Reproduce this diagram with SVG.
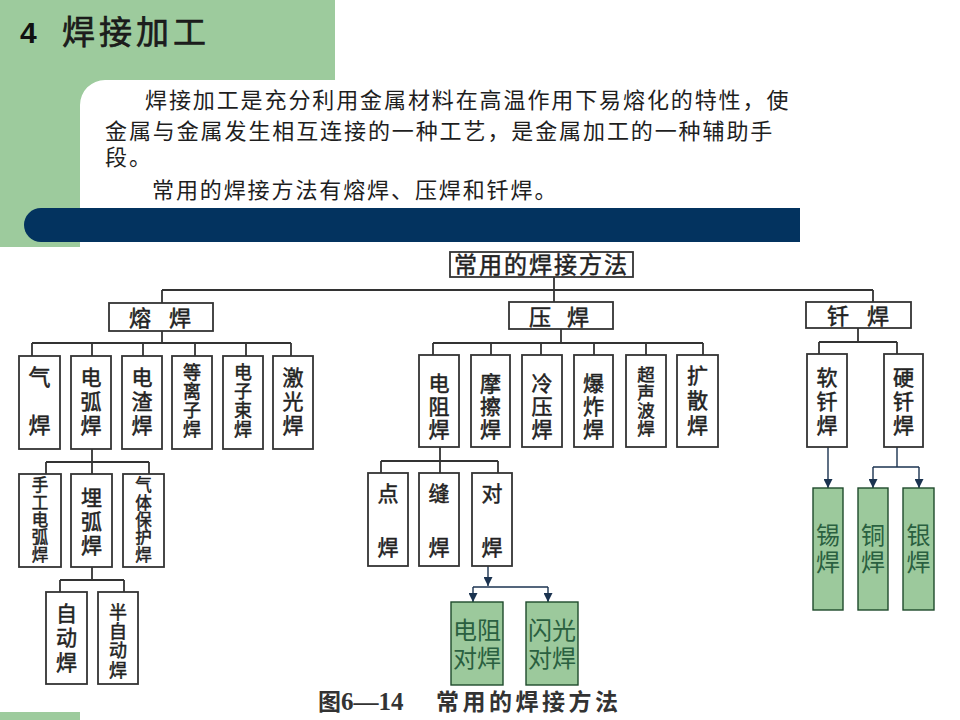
<svg xmlns="http://www.w3.org/2000/svg" width="960" height="720" viewBox="0 0 960 720">
<defs>
<style>
.bg{fill:#9dcb9d}
.bar{fill:#03335f}
.t{font-family:"Noto Sans CJK SC","Noto Sans CJK JP",sans-serif;fill:#1e1e1e}
.para{font-family:"Liberation Sans","Noto Sans CJK SC","Noto Sans CJK JP",sans-serif;font-size:22px;letter-spacing:1.9px;fill:#1e1e1e}
.box{fill:#fff;stroke:#333;stroke-width:1.8}
.gbox{fill:#9cc99c;stroke:#1f4a2c;stroke-width:1.4}
.nt{font-family:"Noto Sans CJK SC","Noto Sans CJK JP",sans-serif;fill:#222;stroke:#222;stroke-width:0.5}
.v{writing-mode:vertical-rl;text-anchor:start}
.gt{font-family:"Liberation Sans","Noto Sans CJK SC","Noto Sans CJK JP",sans-serif;fill:#2a6040;text-anchor:middle}
.gv{font-family:"Noto Sans CJK SC","Noto Sans CJK JP",sans-serif;fill:#2a6040;writing-mode:vertical-rl;text-anchor:start}
.ln{fill:none;stroke:#333;stroke-width:1.8}
.ar{fill:none;stroke:#1b3350;stroke-width:1.4}
</style>
<marker id="ah" viewBox="0 0 10 10" refX="10" refY="5" markerWidth="9" markerHeight="9" markerUnits="userSpaceOnUse" orient="auto">
<path d="M0 0 L10 5 L0 10 Z" fill="#1b3350"/>
</marker>
</defs>
<rect width="960" height="720" fill="#fff"/>
<g id="background">
<path class="bg" d="M0 0 H335 V80 H105 A25 25 0 0 0 80 105 V247 H0 Z"/>
<rect class="bg" x="0" y="712" width="80" height="8"/>
<path class="bar" d="M41 208 H800 V242 H41 A17 17 0 0 1 41 208 Z"/>
</g>
<g id="title">
<text x="20" y="43" font-family="Liberation Sans,Arial,sans-serif" font-weight="bold" font-size="30" fill="#111">4</text>
<text class="t" x="62" y="44" font-size="33" letter-spacing="4" fill="#111" stroke="#111" stroke-width="0.6">焊接加工</text>
</g>
<g id="paragraph">
<text class="para" x="145" y="108">焊接加工是充分利用金属材料在高温作用下易熔化的特性，使</text>
<text class="para" x="105" y="139">金属与金属发生相互连接的一种工艺，是金属加工的一种辅助手</text>
<text class="para" x="105" y="165">段。</text>
<text class="para" x="152" y="198">常用的焊接方法有熔焊、压焊和钎焊。</text>
</g>
<g id="connectors">
<path class="ln" d="M554 277 V290 M162 290 H873 M162 290 V303 M554 290 V302 M873 290 V302"/>
<path class="ln" d="M162 331 V343 M32 343 H291 M32 343 V356 M92 343 V356 M143 343 V356 M195 343 V356 M246 343 V356 M291 343 V356"/>
<path class="ln" d="M92 449 V462 M46 462 H149 M46 462 V474 M92 462 V474 M149 462 V474"/>
<path class="ln" d="M92 567 V580 M60 580 H124 M60 580 V592 M124 580 V592"/>
<path class="ln" d="M561 329 V343 M433 343 H703 M433 343 V355 M491 343 V355 M541 343 V355 M594 343 V355 M646 343 V355 M703 343 V355"/>
<path class="ln" d="M440 447 V461 M381 461 H498 M381 461 V473 M440 461 V473 M498 461 V473"/>
<path class="ln" d="M858 328 V342 M819 342 H897 M819 342 V354 M897 342 V354"/>
<path class="ar" d="M488 566 V586" marker-end="url(#ah)"/>
<path class="ar" d="M473 587 H548"/>
<path class="ar" d="M473 587 V602" marker-end="url(#ah)"/>
<path class="ar" d="M548 587 V602" marker-end="url(#ah)"/>
<path class="ar" d="M828 447 V488" marker-end="url(#ah)"/>
<path class="ar" d="M897 447 V467 M873 467 H919"/>
<path class="ar" d="M873 467 V488" marker-end="url(#ah)"/>
<path class="ar" d="M919 467 V488" marker-end="url(#ah)"/>
</g>
<g id="root"><rect class="box" x="450" y="252" width="183" height="25"/><text class="nt" x="541.5" y="273" font-size="23" letter-spacing="2" text-anchor="middle">常用的焊接方法</text></g>
<g id="rongh"><rect class="box" x="109" y="303" width="104" height="28"/><text class="nt" x="129" y="326" font-size="22" letter-spacing="18">熔焊</text></g>
<g id="yah"><rect class="box" x="509" y="302" width="104" height="27"/><text class="nt" x="529" y="325" font-size="22" letter-spacing="16">压焊</text></g>
<g id="qianh"><rect class="box" x="806" y="302" width="105" height="26"/><text class="nt" x="827" y="324" font-size="22" letter-spacing="18">钎焊</text></g>

<g id="qi"><rect class="box" x="19" y="356" width="41" height="93"/><text class="nt v" x="39.5" y="366" font-size="22" letter-spacing="26">气焊</text></g>
<g id="dianhu"><rect class="box" x="71" y="356" width="40" height="93"/><text class="nt v" x="91" y="366.5" font-size="21" letter-spacing="3">电弧焊</text></g>
<g id="dianzha"><rect class="box" x="122" y="356" width="40" height="93"/><text class="nt v" x="142" y="366.5" font-size="21" letter-spacing="3">电渣焊</text></g>
<g id="denglizi"><rect class="box" x="172" y="356" width="40" height="93"/><text class="nt v" x="192" y="363" font-size="18" letter-spacing="1">等离子焊</text></g>
<g id="dianzishu"><rect class="box" x="223" y="356" width="40" height="93"/><text class="nt v" x="243" y="363" font-size="18" letter-spacing="1">电子束焊</text></g>
<g id="jiguang"><rect class="box" x="273" y="356" width="40" height="93"/><text class="nt v" x="293" y="366.5" font-size="21" letter-spacing="3">激光焊</text></g>

<g id="shougong"><rect class="box" x="19" y="474" width="42" height="93"/><text class="nt v" x="40" y="476.8" font-size="16.5" letter-spacing="0.8">手工电弧焊</text></g>
<g id="maihu"><rect class="box" x="71" y="474" width="41" height="93"/><text class="nt v" x="91.5" y="486.5" font-size="21" letter-spacing="3">埋弧焊</text></g>
<g id="qiti"><rect class="box" x="123" y="474" width="41" height="93"/><text class="nt v" x="143.5" y="476.8" font-size="16.5" letter-spacing="0.8">气体保护焊</text></g>

<g id="zidong"><rect class="box" x="46" y="592" width="41" height="92"/><text class="nt v" x="66.5" y="602.5" font-size="21" letter-spacing="3.5">自动焊</text></g>
<g id="banzidong"><rect class="box" x="98" y="592" width="40" height="92"/><text class="nt v" x="118" y="603" font-size="18" letter-spacing="1.3">半自动焊</text></g>

<g id="dianzu"><rect class="box" x="419" y="355" width="40" height="92"/><text class="nt v" x="439" y="372.5" font-size="21" letter-spacing="2">电阻焊</text></g>
<g id="moca"><rect class="box" x="471" y="355" width="39" height="92"/><text class="nt v" x="490.5" y="372.5" font-size="21" letter-spacing="2">摩擦焊</text></g>
<g id="lengya"><rect class="box" x="522" y="355" width="40" height="92"/><text class="nt v" x="542" y="372.5" font-size="21" letter-spacing="2">冷压焊</text></g>
<g id="baozha"><rect class="box" x="574" y="355" width="39" height="92"/><text class="nt v" x="593.5" y="372.5" font-size="21" letter-spacing="2">爆炸焊</text></g>
<g id="chaoshengbo"><rect class="box" x="626" y="355" width="40" height="92"/><text class="nt v" x="646" y="366" font-size="17.5" letter-spacing="0.5">超声波焊</text></g>
<g id="kuosan"><rect class="box" x="677" y="355" width="41" height="92"/><text class="nt v" x="697.5" y="364.5" font-size="21" letter-spacing="4">扩散焊</text></g>

<g id="dian"><rect class="box" x="368" y="473" width="40" height="93"/><text class="nt v" x="388" y="482.5" font-size="21" letter-spacing="33">点焊</text></g>
<g id="feng"><rect class="box" x="419" y="473" width="40" height="93"/><text class="nt v" x="439" y="482.5" font-size="21" letter-spacing="33">缝焊</text></g>
<g id="dui"><rect class="box" x="472" y="473" width="40" height="93"/><text class="nt v" x="492" y="482.5" font-size="21" letter-spacing="33">对焊</text></g>

<g id="ruanqian"><rect class="box" x="807" y="354" width="40" height="93"/><text class="nt v" x="827" y="366.5" font-size="21" letter-spacing="3">软钎焊</text></g>
<g id="yingqian"><rect class="box" x="884" y="354" width="39" height="93"/><text class="nt v" x="903.5" y="366.5" font-size="21" letter-spacing="3">硬钎焊</text></g>

<g id="dianzudui"><rect class="gbox" x="451" y="602" width="52" height="83"/><text class="gt" font-size="24"><tspan x="477" y="639">电阻</tspan><tspan x="477" y="667">对焊</tspan></text></g>
<g id="shanguangdui"><rect class="gbox" x="526" y="602" width="52" height="83"/><text class="gt" font-size="24"><tspan x="552" y="639">闪光</tspan><tspan x="552" y="667">对焊</tspan></text></g>
<g id="xi"><rect class="gbox" x="813" y="488" width="30" height="122"/><text class="gv" x="828" y="523" font-size="24" letter-spacing="3">锡焊</text></g>
<g id="tong"><rect class="gbox" x="858" y="488" width="30" height="122"/><text class="gv" x="873" y="523" font-size="24" letter-spacing="3">铜焊</text></g>
<g id="yin"><rect class="gbox" x="903" y="488" width="31" height="122"/><text class="gv" x="918.5" y="523" font-size="24" letter-spacing="3">银焊</text></g>

<g id="caption">
<text x="318" y="710" font-family="Liberation Serif,Noto Sans CJK SC,serif" font-weight="bold" font-size="25" fill="#333"><tspan font-family="Noto Sans CJK SC,sans-serif" font-size="23">图</tspan>6—14</text>
<text x="436" y="710" font-family="Noto Sans CJK SC,sans-serif" font-weight="bold" font-size="23" letter-spacing="3.5" fill="#333">常用的焊接方法</text>
</g>
</svg>
